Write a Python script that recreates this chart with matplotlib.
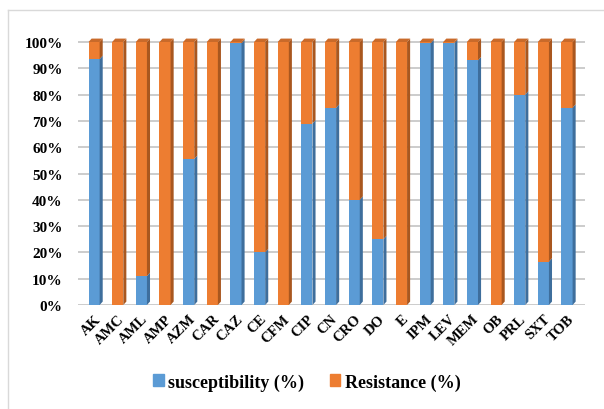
import numpy as np
import matplotlib.pyplot as plt
from matplotlib.patches import Polygon, Patch
from matplotlib.lines import Line2D

antibiotiques = ['AK', 'AMC', 'AML', 'AMP', 'AZM', 'CAR', 'CAZ', 'CE', 'CFM', 'CIP', 'CN',
                 'CRO', 'DO', 'E', 'IPM', 'LEV', 'MEM', 'OB', 'PRL', 'SXT', 'TOB']
sensibilite = [93.5, 0, 11, 0, 55.5, 0, 99.5, 20, 0, 69, 75,
               40, 25, 0, 99.5, 99.5, 93, 0, 80, 16.5, 75]
resistance = [100 - s for s in sensibilite]
graduations = [0, 10, 20, 30, 40, 50, 60, 70, 80, 90, 100]

bleu, bleu_fonce = '#5B9BD5', '#3E6E9C'
orange, orange_fonce = '#ED7D31', '#A9571F'

plt.rcParams['font.family'] = ['Liberation Serif', 'DejaVu Serif']
plt.rcParams['font.weight'] = 'bold'

fig = plt.figure(figsize=(6.04, 4.10), dpi=100)
ax = fig.add_axes([78 / 604, 1 - 306 / 410, 507 / 604, 270 / 410])
ax.set_xlim(-0.68, 20.76)
ax.set_ylim(0, 100 * 270 / 263)

x = np.arange(len(antibiotiques))
largeur = 0.47
# profondeur de l'effet 3D en unités de données
dx, dy = 0.13, 1.3

s = np.array(sensibilite, dtype=float)
r = np.array(resistance, dtype=float)
ax.bar(x, s, width=largeur, color=bleu, zorder=2)
ax.bar(x, r, width=largeur, bottom=s, color=orange, zorder=2)

# faces latérales et dessus des barres
for xi, si, ri in zip(x, s, r):
    x1 = xi + largeur / 2
    x0 = xi - largeur / 2
    if si > 0:
        ax.add_patch(Polygon([(x1, 0), (x1 + dx, dy), (x1 + dx, si + dy), (x1, si)],
                             closed=True, color=bleu_fonce, lw=0, zorder=2))
    if ri > 0:
        ax.add_patch(Polygon([(x1, si), (x1 + dx, si + dy), (x1 + dx, 100 + dy), (x1, 100)],
                             closed=True, color=orange_fonce, lw=0, zorder=2))
    haut = '#C96A2A' if ri > 0 else '#4D86BC'
    ax.add_patch(Polygon([(x0, 100), (x1, 100), (x1 + dx, 100 + dy), (x0 + dx, 100 + dy)],
                         closed=True, color=haut, lw=0, zorder=2))

for sp in ax.spines.values():
    sp.set_visible(False)
ax.set_yticks(graduations)
ax.set_yticklabels([f'{g}%' for g in graduations], fontsize=11, fontweight='bold')
ax.tick_params(axis='y', length=0, pad=11)
ax.set_xticks(x)
ax.set_xticklabels(antibiotiques, rotation=45, ha='right', rotation_mode='anchor',
                   fontsize=10.5, fontweight='bold')
ax.tick_params(axis='x', length=0, pad=5)

# grille horizontale derrière les barres
ax.set_axisbelow(True)
ax.yaxis.grid(True, color='#C8C8C8', linewidth=1.3)
ax.xaxis.grid(False)

# cadre du graphique
fig.add_artist(Line2D([8 / 604, 1], [1 - 11 / 410, 1 - 11 / 410], color='#D9D9D9', lw=1))
fig.add_artist(Line2D([8 / 604, 8 / 604], [0, 1 - 11 / 410], color='#D9D9D9', lw=1))

poignees = [Patch(color=bleu), Patch(color=orange)]
fig.legend(poignees, ['susceptibility (%)', 'Resistance (%)'], loc='center',
           bbox_to_anchor=(0.508, 1 - 383 / 410), ncol=2, frameon=False,
           prop={'size': 13, 'weight': 'bold'}, handlelength=0.6, handleheight=0.6,
           handletextpad=0.25, columnspacing=1.4)

fig.savefig('out.png', dpi=100)
